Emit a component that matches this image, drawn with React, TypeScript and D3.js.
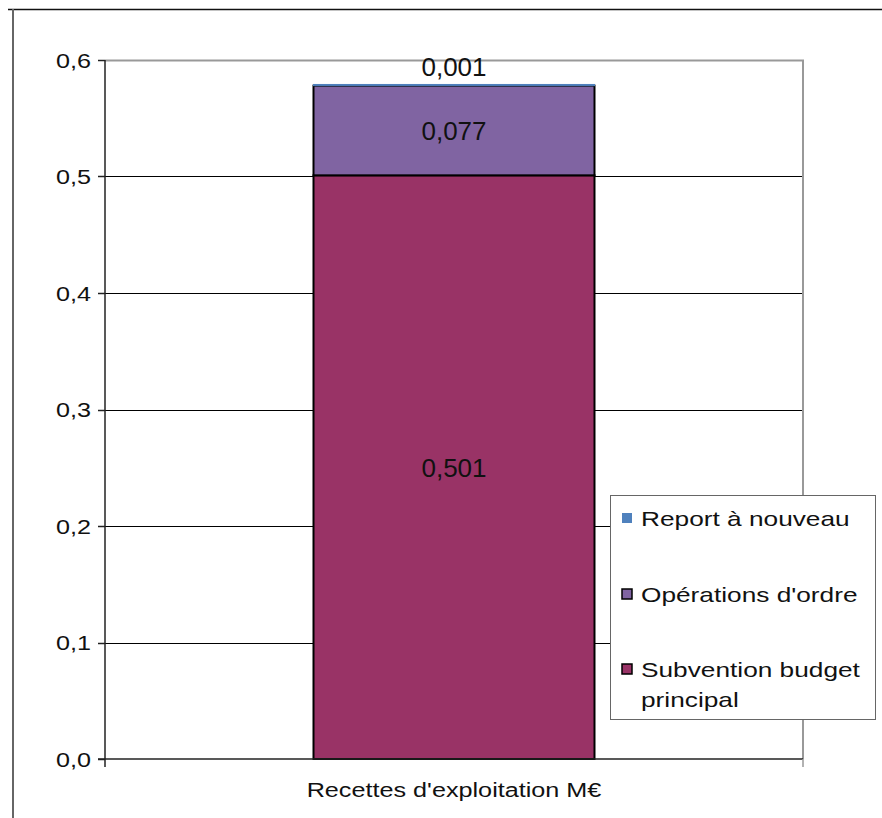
import { useRef, useEffect } from "react"
import * as d3 from "d3"

const category = "Recettes d'exploitation  M€"
const seriesNames = ["Subvention budget principal", "Opérations d'ordre", "Report à nouveau"]
const seriesValues = [0.501, 0.077, 0.001]
const seriesColors = ["#993366", "#8064A2", "#4F81BD"]
const yTicks = [0, 0.1, 0.2, 0.3, 0.4, 0.5, 0.6]

export default function App() {
  const svgRef = useRef<SVGSVGElement>(null)

  function drawChart() {
    const width = 882
    const height = 818
    const left = 105
    const right = 803
    const top = 60
    const bottom = 759
    const font = "'Liberation Sans', Arial, sans-serif"
    const fr = d3.formatLocale({ decimal: ",", thousands: " ", grouping: [3], currency: ["", "€"] })
    const fmt1 = fr.format(".1f")
    const fmt3 = fr.format(".3f")

    const svg = d3.select(svgRef.current).attr("width", width).attr("height", height)
    svg.selectAll("*").remove()

    svg.append("rect").attr("width", width).attr("height", height).attr("fill", "#fff")

    // outer frame
    svg.append("line").attr("x1", 8).attr("x2", width).attr("y1", 9.5).attr("y2", 9.5)
      .attr("stroke", "#111").attr("stroke-width", 1.5)
    svg.append("line").attr("x1", 13).attr("x2", 13).attr("y1", 9).attr("y2", height)
      .attr("stroke", "#666").attr("stroke-width", 2)

    const y = d3.scaleLinear().domain([0, 0.6]).range([bottom, top])
    const x = d3.scaleBand().domain([category]).range([left, right]).paddingInner(0).paddingOuter(0.742)

    // gridlines
    svg.append("g").selectAll("line").data(yTicks.slice(1, -1)).enter().append("line")
      .attr("x1", left).attr("x2", right)
      .attr("y1", (d) => Math.round(y(d)) + 0.5).attr("y2", (d) => Math.round(y(d)) + 0.5)
      .attr("stroke", "#000").attr("stroke-width", 1)

    // plot border top/right
    svg.append("path")
      .attr("d", `M${left},${top + 0.5}H${right}V${bottom}`)
      .attr("fill", "none").attr("stroke", "#999").attr("stroke-width", 2)

    // bars
    const stacked: { v: number; y0: number; y1: number; c: string }[] = []
    let acc = 0
    seriesValues.forEach((v, i) => {
      stacked.push({ v, y0: acc, y1: acc + v, c: seriesColors[i] })
      acc += v
    })
    const bx = x(category)!
    const bw = x.bandwidth()
    svg.append("g").selectAll("rect").data(stacked).enter().append("rect")
      .attr("x", bx).attr("width", bw)
      .attr("y", (d) => y(d.y1)).attr("height", (d) => y(d.y0) - y(d.y1))
      .attr("fill", (d) => d.c)
      .attr("stroke", (d, i) => (i === 2 ? d.c : "#000"))
      .attr("stroke-width", (d, i) => (i === 2 ? 1 : 2))

    // data labels
    svg.append("g").selectAll("text").data(stacked).enter().append("text")
      .attr("x", bx + bw / 2)
      .attr("y", (d, i) => (i === 2 ? y(d.y1) - 8 : (y(d.y0) + y(d.y1)) / 2 + 10))
      .attr("text-anchor", "middle")
      .style("font-family", font).style("font-size", "26px").attr("fill", "#111")
      .text((d) => fmt3(d.v))

    // axes
    svg.append("line").attr("x1", left).attr("x2", left).attr("y1", top).attr("y2", bottom + 8)
      .attr("stroke", "#222").attr("stroke-width", 1.5)
    svg.append("line").attr("x1", left - 7).attr("x2", right).attr("y1", bottom).attr("y2", bottom)
      .attr("stroke", "#222").attr("stroke-width", 1.5)
    svg.append("line").attr("x1", right).attr("x2", right).attr("y1", bottom).attr("y2", bottom + 8)
      .attr("stroke", "#999").attr("stroke-width", 1.5)

    const ticks = svg.append("g")
    ticks.selectAll("line").data(yTicks).enter().append("line")
      .attr("x1", left - 7).attr("x2", left)
      .attr("y1", (d) => Math.round(y(d)) + 0.5).attr("y2", (d) => Math.round(y(d)) + 0.5)
      .attr("stroke", "#222").attr("stroke-width", 1.5)
    ticks.selectAll("text").data(yTicks).enter().append("text")
      .attr("transform", (d) => `translate(91,${y(d) + 7.5}) scale(1.2,1)`)
      .attr("text-anchor", "end")
      .style("font-family", font).style("font-size", "21px").attr("fill", "#111")
      .text((d) => fmt1(d))

    svg.append("text")
      .attr("transform", `translate(${bx + bw / 2},${bottom + 38}) scale(1.2,1)`)
      .attr("text-anchor", "middle")
      .style("font-family", font).style("font-size", "21px").attr("fill", "#111")
      .text(category)

    // legend
    const lg = svg.append("g").attr("transform", "translate(610,495)")
    lg.append("rect").attr("x", 0.5).attr("y", 0.5).attr("width", 265).attr("height", 224)
      .attr("fill", "#fff").attr("stroke", "#666").attr("stroke-width", 1)
    const legendItems = [
      { name: ["Report à nouveau"], c: seriesColors[2], stroke: false, yy: 24 },
      { name: ["Opérations d'ordre"], c: seriesColors[1], stroke: true, yy: 100 },
      { name: ["Subvention budget", "principal"], c: seriesColors[0], stroke: true, yy: 175 },
    ]
    legendItems.forEach((it) => {
      lg.append("rect").attr("x", 12).attr("y", it.yy - 6).attr("width", 10).attr("height", 10)
        .attr("fill", it.c).attr("stroke", it.stroke ? "#000" : "none").attr("stroke-width", 1.5)
      it.name.forEach((line, j) => {
        lg.append("text")
          .attr("transform", `translate(31,${it.yy + 7 + j * 30}) scale(1.25,1)`)
          .style("font-family", font).style("font-size", "21px").attr("fill", "#111")
          .text(line)
      })
    })
  }

  useEffect(() => {
    drawChart()
  }, [svgRef])

  return (
    <div style={{ position: "absolute", left: 0, top: 0 }}>
      <svg ref={svgRef} style={{ display: "block" }}></svg>
    </div>
  )
}
